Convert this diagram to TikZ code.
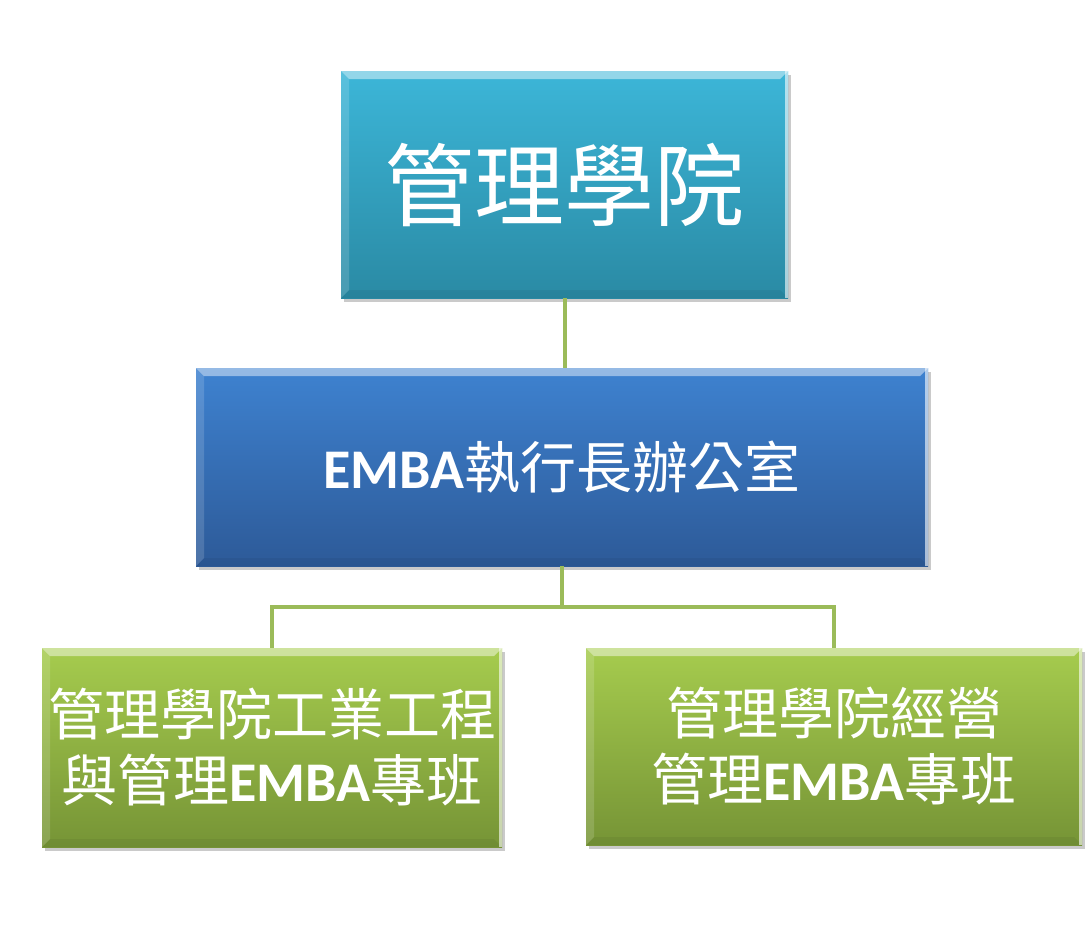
\documentclass[tikz,border=0pt]{standalone}
\usepackage{fontspec}
\newfontfamily\cjk{Noto Sans CJK TC}
\newfontfamily\emba{Carlito}
\usetikzlibrary{shadows}
\definecolor{tealT}{RGB}{60,182,216}
\definecolor{tealB}{RGB}{42,138,164}
\definecolor{blueT}{RGB}{62,130,208}
\definecolor{blueB}{RGB}{45,90,152}
\definecolor{greenT}{RGB}{166,204,78}
\definecolor{greenB}{RGB}{118,148,54}
\definecolor{linkc}{RGB}{155,187,89}
\tikzset{
  bevel/.style={
    path picture={
      \fill[white,opacity=0.45] (path picture bounding box.north west) -- (path picture bounding box.north east)
        -- ([xshift=-8pt,yshift=-8pt]path picture bounding box.north east) -- ([xshift=8pt,yshift=-8pt]path picture bounding box.north west) -- cycle;
      \fill[white,opacity=0.15] (path picture bounding box.north west) -- ([xshift=8pt,yshift=-8pt]path picture bounding box.north west)
        -- ([xshift=8pt,yshift=8pt]path picture bounding box.south west) -- (path picture bounding box.south west) -- cycle;
      \fill[black,opacity=0.05] (path picture bounding box.south west) -- ([xshift=8pt,yshift=8pt]path picture bounding box.south west)
        -- ([xshift=-8pt,yshift=8pt]path picture bounding box.south east) -- (path picture bounding box.south east) -- cycle;
      \fill[white,opacity=0.6] ([xshift=-3pt]path picture bounding box.north east) rectangle (path picture bounding box.south east);
    }},
  box/.style={rectangle, inner sep=0pt, text=white, align=center, bevel,
    drop shadow={shadow xshift=3pt, shadow yshift=-4pt, opacity=0.35, fill=black!60}},
  tealbox/.style={box, top color=tealT, bottom color=tealB},
  bluebox/.style={box, top color=blueT, bottom color=blueB},
  greenbox/.style={box, top color=greenT, bottom color=greenB},
  link/.style={draw=linkc, line width=4pt}
}
\begin{document}
\begin{tikzpicture}[x=1pt,y=-1pt]
\useasboundingbox (0,0) rectangle (1091,940);
\node[tealbox, minimum width=447pt, minimum height=227pt,
  font={\fontsize{90pt}{100pt}\selectfont\cjk}] (top) at (564.5,184.5) {管理學院};
\node[bluebox, minimum width=732pt, minimum height=198pt,
  font={\fontsize{56pt}{66pt}\selectfont\cjk}] (mid) at (562,467) {{\emba\bfseries EMBA}執行長辦公室};
\node[greenbox, minimum width=460pt, minimum height=199pt,
  font={\fontsize{56pt}{66pt}\selectfont\cjk}] (bl) at (272,747.5) {管理學院工業工程\\與管理{\emba\bfseries EMBA}專班};
\node[greenbox, minimum width=496pt, minimum height=197pt,
  font={\fontsize{56pt}{66pt}\selectfont\cjk}] (br) at (834,746.5) {管理學院經營\\管理{\emba\bfseries EMBA}專班};
\coordinate (bus) at (562,607);
\draw[link] (top.south) -- (top.south |- mid.north);
\draw[link] (mid.south) -- (bus);
\draw[link] (bl.north) |- (bus) -| (br.north);
\end{tikzpicture}
\end{document}
